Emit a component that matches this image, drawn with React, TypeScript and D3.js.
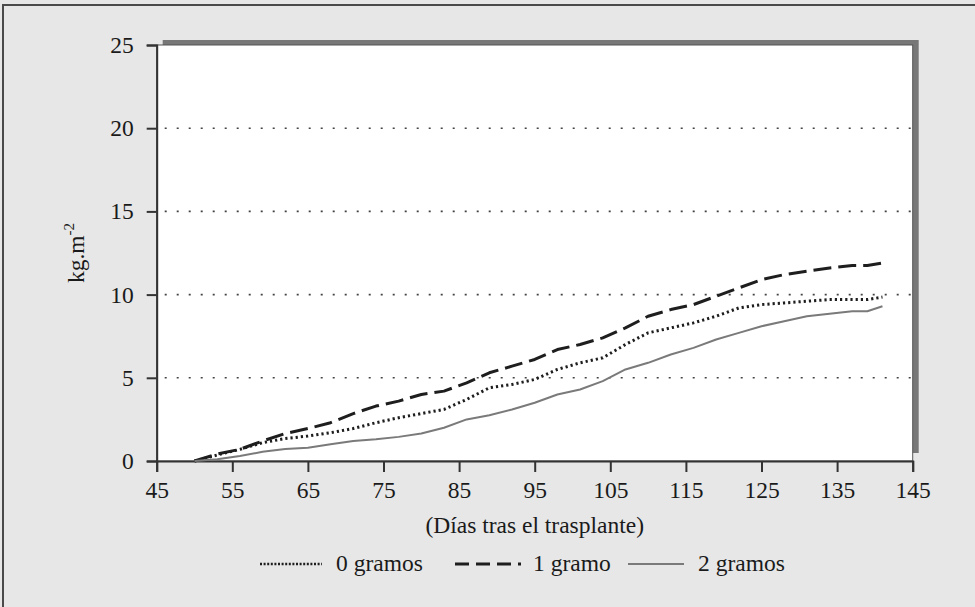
import * as d3 from 'd3';
import React, { useEffect, useRef } from 'react';

// Datos
const days = [
  50, 53, 56, 59, 62, 65, 68, 71, 74, 77, 80, 83, 86, 89, 92, 95, 98, 101,
  104, 107, 110, 113, 116, 119, 122, 125, 128, 131, 134, 137, 139, 141,
];
const gramos0 = [
  0, 0.36, 0.7, 1.1, 1.35, 1.5, 1.7, 1.95, 2.3, 2.6, 2.85, 3.1, 3.7, 4.4, 4.6,
  4.9, 5.5, 5.9, 6.2, 7.0, 7.7, 8.0, 8.3, 8.7, 9.2, 9.4, 9.5, 9.6, 9.7, 9.7,
  9.7, 9.85,
];
const gramo1 = [
  0, 0.42, 0.7, 1.2, 1.65, 1.95, 2.3, 2.85, 3.3, 3.6, 4.0, 4.2, 4.7, 5.3, 5.7,
  6.1, 6.7, 7.0, 7.4, 8.0, 8.7, 9.1, 9.4, 9.9, 10.4, 10.9, 11.2, 11.4, 11.6,
  11.75, 11.75, 11.9,
];
const gramos2 = [
  0, 0.1, 0.3, 0.55, 0.72, 0.8, 1.0, 1.2, 1.3, 1.45, 1.65, 2.0, 2.5, 2.75, 3.1,
  3.5, 4.0, 4.3, 4.8, 5.5, 5.9, 6.4, 6.8, 7.3, 7.7, 8.1, 8.4, 8.7, 8.85, 9.0,
  9.0, 9.3,
];
const seriesNames = ['0 gramos', '1 gramo', '2 gramos'];
const xTicks = [45, 55, 65, 75, 85, 95, 105, 115, 125, 135, 145];
const yTicks = [0, 5, 10, 15, 20, 25];
const gridValues = [5, 10, 15, 20];

const FONT = '"Liberation Serif", "Times New Roman", serif';
const FS = '23.5px';

const App: React.FC = () => {
  const svgRef = useRef<SVGSVGElement | null>(null);

  useEffect(() => {
    if (!svgRef.current) return;
    const svg = d3.select(svgRef.current);
    svg.selectAll('*').remove();

    const W = 975;
    const H = 607;
    const left = 156.7;
    const right = 912.7;
    const top = 45;
    const bottom = 461;

    // Fondo
    svg.append('rect').attr('width', W).attr('height', H).attr('fill', '#e7e7e7');
    svg
      .append('path')
      .attr('d', `M3,${H} L3,5 L${W},5`)
      .attr('fill', 'none')
      .attr('stroke', '#4a4a4a')
      .attr('stroke-width', 2);

    const x = d3.scaleLinear().domain([45, 145]).range([left, right]);
    const y = d3.scaleLinear().domain([0, 25]).range([bottom, top]);

    // Sombra y área del gráfico
    svg
      .append('rect')
      .attr('x', left + 6)
      .attr('y', top - 5)
      .attr('width', right - left)
      .attr('height', bottom - top - 3)
      .attr('fill', '#777');
    svg
      .append('rect')
      .attr('x', left)
      .attr('y', top)
      .attr('width', right - left)
      .attr('height', bottom - top)
      .attr('fill', '#fff')
      .attr('stroke', '#555')
      .attr('stroke-width', 1);

    // Rejilla
    svg
      .append('g')
      .selectAll('line')
      .data(gridValues)
      .enter()
      .append('line')
      .attr('x1', left + 8)
      .attr('x2', right)
      .attr('y1', (d) => y(d))
      .attr('y2', (d) => y(d))
      .attr('stroke', '#444')
      .attr('stroke-width', 1.6)
      .attr('stroke-dasharray', '2,10');

    // Ejes
    const xAxis = d3
      .axisBottom(x)
      .tickValues(xTicks)
      .tickSize(11)
      .tickPadding(9)
      .tickFormat(d3.format('d'));
    const yAxis = d3
      .axisLeft(y)
      .tickValues(yTicks)
      .tickSize(10)
      .tickPadding(13)
      .tickFormat(d3.format('d'));

    const gx = svg
      .append('g')
      .attr('transform', `translate(0,${bottom})`)
      .call(xAxis);
    const gy = svg.append('g').attr('transform', `translate(${left},0)`).call(yAxis);
    [gx, gy].forEach((g) => {
      g.select('.domain').attr('stroke', '#333').attr('stroke-width', 2);
      g.selectAll('.tick line').attr('stroke', '#333').attr('stroke-width', 2);
      g.selectAll('.tick text')
        .attr('fill', '#1a1a1a')
        .style('font-family', FONT)
        .style('font-size', FS);
    });

    // Líneas
    const series = [
      { name: seriesNames[0], values: gramos0, color: '#1e1e1e', width: 3, dash: '2.2,3' },
      { name: seriesNames[1], values: gramo1, color: '#1e1e1e', width: 3, dash: '18,7' },
      { name: seriesNames[2], values: gramos2, color: '#7a7a7a', width: 2, dash: null },
    ];

    const line = d3
      .line<number>()
      .x((_, i) => x(days[i]))
      .y((d) => y(d));

    series.forEach((s) => {
      svg
        .append('path')
        .datum(s.values)
        .attr('fill', 'none')
        .attr('stroke', s.color)
        .attr('stroke-width', s.width)
        .attr('stroke-dasharray', s.dash)
        .attr('stroke-linejoin', 'round')
        .attr('d', line);
    });

    // Títulos de ejes
    svg
      .append('text')
      .attr('x', (left + right) / 2)
      .attr('y', 533)
      .attr('text-anchor', 'middle')
      .attr('fill', '#1a1a1a')
      .style('font-family', FONT)
      .style('font-size', FS)
      .text('(Días tras el trasplante)');

    const yLabel = svg
      .append('text')
      .attr('transform', `translate(84,${(top + bottom) / 2}) rotate(-90)`)
      .attr('text-anchor', 'middle')
      .attr('fill', '#1a1a1a')
      .style('font-family', FONT)
      .style('font-size', FS);
    yLabel.append('tspan').text('kg.m');
    yLabel
      .append('tspan')
      .attr('dy', -10)
      .style('font-size', '15px')
      .text('-2');

    // Leyenda
    const legendY = 564;
    const legendItems = [
      { x1: 260, x2: 322, tx: 336 },
      { x1: 455, x2: 521, tx: 533 },
      { x1: 628, x2: 684, tx: 698 },
    ];
    series.forEach((s, i) => {
      const li = legendItems[i];
      svg
        .append('line')
        .attr('x1', li.x1)
        .attr('x2', li.x2)
        .attr('y1', legendY)
        .attr('y2', legendY)
        .attr('stroke', s.color)
        .attr('stroke-width', i === 0 ? 2.5 : s.width)
        .attr('stroke-dasharray', i === 0 ? '2,1.6' : i === 1 ? '14,7' : null);
      svg
        .append('text')
        .attr('x', li.tx)
        .attr('y', legendY + 7)
        .attr('fill', '#1a1a1a')
        .style('font-family', FONT)
        .style('font-size', FS)
        .text(s.name);
    });
  }, []);

  return (
    <svg
      ref={svgRef}
      width={975}
      height={607}
      style={{ position: 'absolute', left: 0, top: 0 }}
    />
  );
};

export default App;
